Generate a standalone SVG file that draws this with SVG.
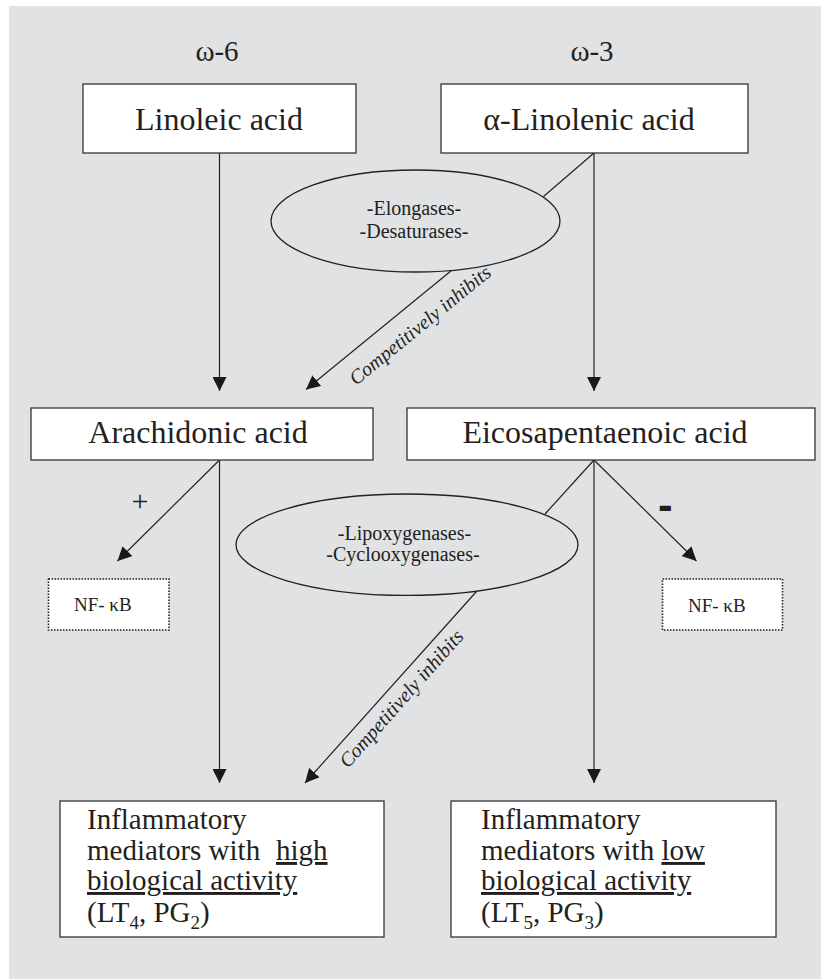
<svg xmlns="http://www.w3.org/2000/svg" width="821" height="979" viewBox="0 0 821 979">
<style>
text{font-family:"Liberation Serif","Times New Roman",serif;fill:#231f20}
.box{fill:#fff;stroke:#333;stroke-width:1.3}
.dot{fill:#fff;stroke:#222;stroke-width:1.6;stroke-dasharray:1.6 1.4}
.ell{fill:none;stroke:#222;stroke-width:1.3}
.t32{font-size:32px;text-anchor:middle}
.t20{font-size:20px;text-anchor:middle}
.t29{font-size:29px}
.nf{font-size:19px}
.ci{font-size:20px;font-style:italic}
.ln{stroke:#222;stroke-width:1.2;fill:none}
.u{text-decoration:underline}
</style>
<defs>
<marker id="ah" markerUnits="userSpaceOnUse" markerWidth="14" markerHeight="14" viewBox="0 0 14 14" refX="14" refY="7" orient="auto">
<path d="M0,0 L14,7 L0,14 z" fill="#1a1a1a"/>
</marker>
</defs>
<rect x="9" y="6" width="812" height="973" fill="#e1e2e4"/>

<g id="label-w6"><text x="217" y="61" style="font-size:29px;text-anchor:middle">ω-6</text></g>
<g id="label-w3"><text x="592" y="61" style="font-size:29px;text-anchor:middle">ω-3</text></g>

<g id="connectors">
<line class="ln" x1="219.5" y1="153" x2="219.5" y2="391" marker-end="url(#ah)"/>
<line class="ln" x1="594" y1="153" x2="594" y2="391" marker-end="url(#ah)"/>
<line class="ln" x1="594" y1="153" x2="543.5" y2="196.5"/>
<line class="ln" x1="451.5" y1="270.5" x2="306" y2="389.5" marker-end="url(#ah)"/>
<line class="ln" x1="219.5" y1="460" x2="219.5" y2="783" marker-end="url(#ah)"/>
<line class="ln" x1="219.5" y1="460" x2="117.5" y2="561" marker-end="url(#ah)"/>
<line class="ln" x1="594" y1="460" x2="594" y2="783" marker-end="url(#ah)"/>
<line class="ln" x1="594" y1="460" x2="545" y2="514"/>
<line class="ln" x1="594" y1="460" x2="696.5" y2="561" marker-end="url(#ah)"/>
<line class="ln" x1="476.5" y1="591.5" x2="305" y2="783" marker-end="url(#ah)"/>
<text class="ci" transform="translate(356,386) rotate(-39.2)">Competitively inhibits</text>
<text class="ci" transform="translate(348,769) rotate(-48.5)">Competitively inhibits</text>
<text x="140" y="511" style="font-size:30px;text-anchor:middle">+</text>
<text x="658" y="520" style="font-family:'Liberation Sans',Arial,sans-serif;font-size:44px;font-weight:bold">-</text>
</g>

<g id="linoleic">
<rect class="box" x="83" y="84" width="273" height="69"/>
<text class="t32" x="219" y="130">Linoleic acid</text>
</g>
<g id="alpha-linolenic">
<rect class="box" x="441" y="84" width="307" height="69"/>
<text class="t32" x="589" y="130">α-Linolenic acid</text>
</g>

<g id="elongases">
<ellipse class="ell" cx="415.5" cy="221" rx="144.5" ry="51"/>
<text class="t20" x="414" y="215">-Elongases-</text>
<text class="t20" x="414" y="238">-Desaturases-</text>
</g>

<g id="arachidonic">
<rect class="box" x="31" y="408" width="342" height="52"/>
<text class="t32" x="198" y="443">Arachidonic acid</text>
</g>
<g id="epa">
<rect class="box" x="407" y="408" width="408" height="52"/>
<text class="t32" x="605" y="443">Eicosapentaenoic acid</text>
</g>

<g id="lipoxygenases">
<ellipse class="ell" cx="407" cy="544.7" rx="171" ry="50.7"/>
<text class="t20" x="404.5" y="540">-Lipoxygenases-</text>
<text class="t20" x="403" y="561">-Cyclooxygenases-</text>
</g>

<g id="nfkb-left">
<rect class="dot" x="48.5" y="579" width="120.5" height="51"/>
<text class="nf" x="74" y="610.5">NF- κB</text>
</g>
<g id="nfkb-right">
<rect class="dot" x="662.5" y="579" width="120" height="51"/>
<text class="nf" x="688" y="611.5">NF- κB</text>
</g>

<g id="mediators-high">
<rect class="box" x="60" y="801" width="324" height="136"/>
<text class="t29" x="87" y="829">Inflammatory</text>
<text class="t29" x="87" y="860">mediators with <tspan x="276" class="u">high</tspan></text>
<text class="t29" x="87" y="890"><tspan class="u">biological activity</tspan></text>
<text class="t29" x="87" y="922">(LT<tspan dy="7" style="font-size:19px">4</tspan><tspan dy="-7">, PG</tspan><tspan dy="7" style="font-size:19px">2</tspan><tspan dy="-7">)</tspan></text>
</g>
<g id="mediators-low">
<rect class="box" x="451" y="801" width="325" height="136"/>
<text class="t29" x="481" y="829">Inflammatory</text>
<text class="t29" x="481" y="860">mediators with <tspan class="u">low</tspan></text>
<text class="t29" x="481" y="890"><tspan class="u">biological activity</tspan></text>
<text class="t29" x="481" y="922">(LT<tspan dy="7" style="font-size:19px">5</tspan><tspan dy="-7">, PG</tspan><tspan dy="7" style="font-size:19px">3</tspan><tspan dy="-7">)</tspan></text>
</g>
</svg>
